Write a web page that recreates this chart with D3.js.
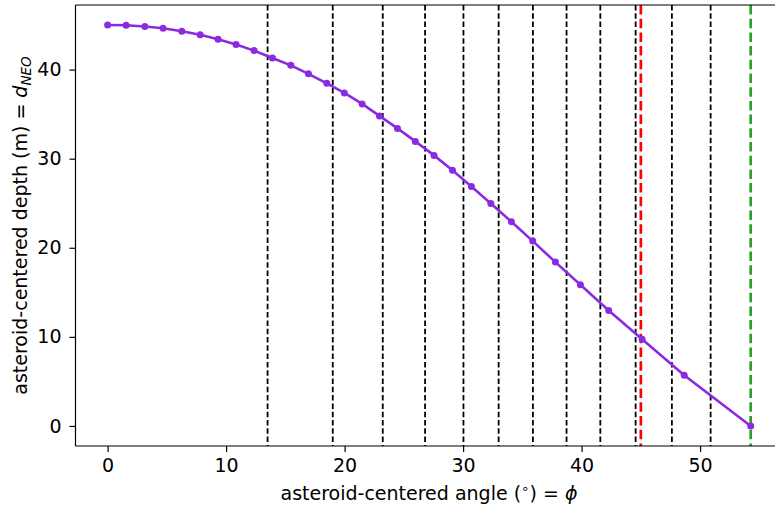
<!DOCTYPE html>
<html>
<head>
<meta charset="utf-8">
<script src="https://cdn.jsdelivr.net/npm/d3@7"></script>
<style>
  html, body { margin: 0; padding: 0; background: #fff; }
  svg { display: block; font-family: "DejaVu Sans", sans-serif; }
</style>
</head>
<body>
<svg id="chart" width="775" height="510"></svg>
<script>
// ---- data ----
const angles = [0, 1.56, 3.14, 4.68, 6.26, 7.81, 9.32, 10.84, 12.36, 13.91, 15.46, 16.95, 18.50, 19.98, 21.48, 22.94, 24.46, 25.97, 27.55, 29.10, 30.70, 32.34, 34.08, 35.88, 37.79, 39.90, 42.29, 45.11, 48.66, 54.27];
const depths = [45.0, 44.98, 44.83, 44.64, 44.30, 43.90, 43.40, 42.81, 42.13, 41.31, 40.48, 39.52, 38.46, 37.38, 36.15, 34.80, 33.40, 31.94, 30.37, 28.69, 26.89, 24.98, 22.92, 20.75, 18.39, 15.84, 12.96, 9.74, 5.70, 0.0];
const blackLines = [13.50, 19.00, 23.22, 26.79, 30.03, 33.00, 35.89, 38.73, 41.58, 44.56, 47.62, 50.89];
const redLine = [45.0];
const greenLine = [54.27];
const xTicks = [0, 10, 20, 30, 40, 50];
const yTicks = [0, 10, 20, 30, 40];

(function () {
// ---- layout ----
const svg = d3.select("#chart");
const L = 75.5, R = 782.8, T = 5, B = 446;
const xMin = -2.71, xMax = 56.98, yMin = -2.25, yMax = 47.25;
const x = d3.scaleLinear().domain([xMin, xMax]).range([L, R]);
const y = d3.scaleLinear().domain([yMin, yMax]).range([B, T]);
const fs = 19;

// vertical lines
const vg = svg.append("g");
vg.selectAll("line.blk").data(blackLines).enter().append("line")
  .attr("x1", d => x(d)).attr("x2", d => x(d))
  .attr("y1", y(yMax)).attr("y2", y(yMin))
  .attr("stroke", "#000").attr("stroke-width", 1.8)
  .attr("stroke-dasharray", "5.5,2.8");
vg.selectAll("line.red").data(redLine).enter().append("line")
  .attr("x1", d => x(d)).attr("x2", d => x(d))
  .attr("y1", y(yMax)).attr("y2", y(yMin))
  .attr("stroke", "#ff0000").attr("stroke-width", 2.7)
  .attr("stroke-dasharray", "9.5,4.2");
vg.selectAll("line.grn").data(greenLine).enter().append("line")
  .attr("x1", d => x(d)).attr("x2", d => x(d))
  .attr("y1", y(yMax)).attr("y2", y(yMin))
  .attr("stroke", "#2ca02c").attr("stroke-width", 2.7)
  .attr("stroke-dasharray", "9.5,4.2");

// curve
const pts = angles.map((a, i) => [a, depths[i]]);
const purple = "#8a2be2";
svg.append("path")
  .datum(pts)
  .attr("fill", "none")
  .attr("stroke", purple)
  .attr("stroke-width", 2.6)
  .attr("d", d3.line().x(d => x(d[0])).y(d => y(d[1])));
svg.append("g").selectAll("circle").data(pts).enter().append("circle")
  .attr("cx", d => x(d[0])).attr("cy", d => y(d[1]))
  .attr("r", 3.5).attr("fill", purple);

// axes
const xAxis = d3.axisBottom(x).tickValues(xTicks).tickSize(6).tickPadding(7).tickFormat(d3.format("d"));
const yAxis = d3.axisLeft(y).tickValues(yTicks).tickSize(6).tickPadding(8).tickFormat(d3.format("d"));
const gx = svg.append("g").attr("transform", `translate(0,${B})`).call(xAxis);
const gy = svg.append("g").attr("transform", `translate(${L},0)`).call(yAxis);
[gx, gy].forEach(g => {
  g.select(".domain").remove();
  g.selectAll(".tick line").attr("stroke", "#000").attr("stroke-width", 1.2);
  g.selectAll(".tick text").attr("fill", "#000").style("font-size", fs + "px")
    .style("font-family", "'DejaVu Sans', sans-serif");
});

// spines
const sp = svg.append("g").attr("stroke", "#000").attr("stroke-width", 1.2);
sp.append("line").attr("x1", L).attr("x2", L).attr("y1", T).attr("y2", B);
sp.append("line").attr("x1", L).attr("x2", R).attr("y1", B).attr("y2", B);
sp.append("line").attr("x1", L).attr("x2", R).attr("y1", T).attr("y2", T);
sp.append("line").attr("x1", R).attr("x2", R).attr("y1", T).attr("y2", B);

// x label
const xl = svg.append("text")
  .attr("x", 429).attr("y", 500)
  .attr("text-anchor", "middle").style("font-size", fs + "px").attr("fill", "#000");
xl.append("tspan").text("asteroid-centered angle (");
xl.append("tspan").attr("dy", -7).style("font-size", "13.5px").text("∘");
xl.append("tspan").attr("dy", 7).text(") = ");
xl.append("tspan").style("font-style", "italic").text("ϕ");

// y label
const yl = svg.append("text")
  .attr("transform", `translate(27,${(T + B) / 2}) rotate(-90)`)
  .attr("text-anchor", "middle").style("font-size", fs + "px").attr("fill", "#000");
yl.append("tspan").text("asteroid-centered depth (m) = ");
yl.append("tspan").style("font-style", "italic").text("d");
yl.append("tspan").attr("dy", 4).style("font-style", "italic").style("font-size", "13.5px").text("NEO");
})();
</script>
</body>
</html>
